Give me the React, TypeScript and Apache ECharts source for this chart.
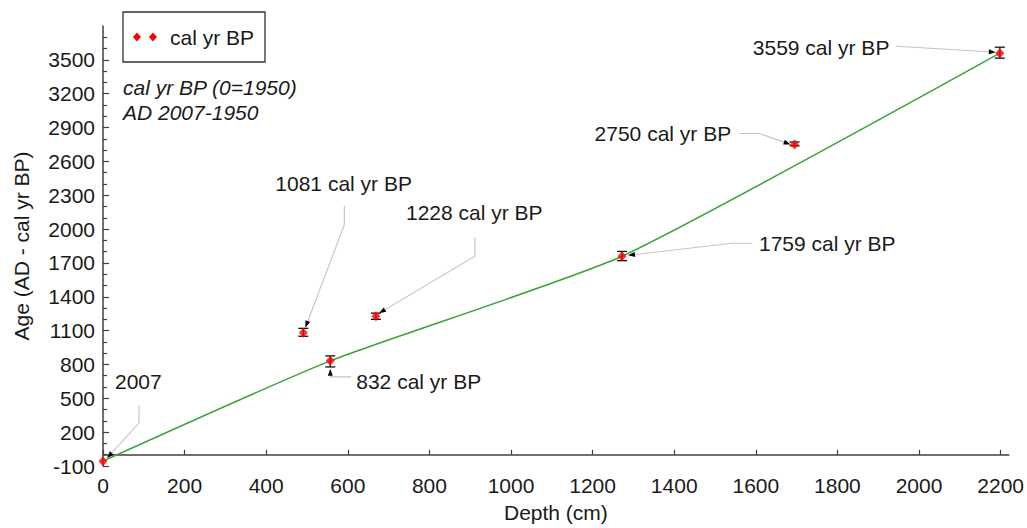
import React, { useEffect, useRef } from "react";
import * as echarts from "echarts";

// ---- data ----
const pointLabels = ["2007", "1081 cal yr BP", "832 cal yr BP", "1228 cal yr BP", "1759 cal yr BP", "2750 cal yr BP", "3559 cal yr BP"];
const pointDepth = [0, 491, 557, 669, 1272, 1695, 2198];
const pointAge = [-57, 1081, 832, 1228, 1759, 2750, 3559];
const errLow = [-57, 1050, 778, 1200, 1720, 2738, 3515];
const errHigh = [-57, 1120, 876, 1255, 1802, 2772, 3612];
const modelDepth = [0, 557, 1272, 2198];
const modelAge = [-57, 832, 1759, 3559];
const xTickValues = [0, 200, 400, 600, 800, 1000, 1200, 1400, 1600, 1800, 2000, 2200];
const yTickValues = [-100, 200, 500, 800, 1100, 1400, 1700, 2000, 2300, 2600, 2900, 3200, 3500];
const seriesName = "cal yr BP";
const noteLines = ["cal yr BP (0=1950)", "AD 2007-1950"];

// ---- annotation layout (pixel offsets from the point) ----
const annTextOffset: number[][] = [
  [12, -80],
  [-28, -149],
  [26, 21],
  [30, -104],
  [137, -13],
  [-200, -11],
  [-247, -6],
];
const annLeader: number[][][] = [
  [[36, -56], [36, -38], [4, -3]],
  [[41, -127], [41, -108], [2, -5]],
  [[21, 16], [0, 16], [0, 8]],
  [[99, -79], [99, -60], [3, -3]],
  [[130, -13], [110, -13], [6, -1]],
  [[-55, -11], [-35, -11], [-4, 0]],
  [[-104, -7], [-4, -1]],
];

const FONT = "'Liberation Sans', Arial, Helvetica, sans-serif";
const FS = 21;
const TEXT = "#1a1a1a";
const AXIS = "#404040";

export default function App() {
  const ref = useRef<HTMLDivElement>(null);
  useEffect(() => {
    if (!ref.current) return;
    const chart = echarts.init(ref.current, undefined, { renderer: "svg" });

    const option: any = {
      animation: false,
      backgroundColor: "#ffffff",
      grid: { left: 103, right: 15, top: 26, bottom: 61 },
      xAxis: {
        type: "value",
        min: 0,
        max: 2220,
        interval: 200,
        name: "Depth (cm)",
        nameLocation: "middle",
        nameGap: 36,
        nameTextStyle: { fontFamily: FONT, fontSize: FS, color: TEXT },
        axisLine: { show: true, lineStyle: { color: AXIS, width: 1.5 } },
        axisTick: { show: true, inside: true, length: 5, customValues: xTickValues, lineStyle: { color: AXIS, width: 1.2 } },
        axisLabel: {
          customValues: xTickValues,
          margin: 9,
          fontFamily: FONT,
          fontSize: FS,
          color: TEXT,
          formatter: (v: number) => String(v),
        },
        splitLine: { show: false },
      },
      yAxis: {
        type: "value",
        min: -100,
        max: 3800,
        interval: 300,
        name: "Age (AD - cal yr BP)",
        nameLocation: "middle",
        nameGap: 71,
        nameTextStyle: { fontFamily: FONT, fontSize: FS, color: TEXT },
        axisLine: { show: true, lineStyle: { color: AXIS, width: 1.5 } },
        axisTick: { show: true, inside: true, length: 6, customValues: yTickValues, lineStyle: { color: AXIS, width: 1.2 } },
        minorTick: { show: true, splitNumber: 3, length: 4, lineStyle: { color: AXIS, width: 1.2 } },
        axisLabel: {
          customValues: yTickValues,
          margin: 8,
          fontFamily: FONT,
          fontSize: FS,
          color: TEXT,
          formatter: (v: number) => String(v),
        },
        splitLine: { show: false },
      },
      series: [
        {
          name: "model",
          type: "line",
          data: modelDepth.map((d, i) => [d, modelAge[i]]),
          smooth: 0.18,
          showSymbol: false,
          symbol: "none",
          lineStyle: { color: "#3ba33b", width: 1.5 },
          z: 1,
        },
        {
          name: "errors",
          type: "custom",
          data: pointDepth.map((d, i) => [d, errLow[i], errHigh[i]]),
          encode: { x: 0, y: [1, 2] },
          z: 2,
          clip: false,
          renderItem: (params: any, api: any) => {
            const x = api.value(0);
            const lo = api.value(1);
            const hi = api.value(2);
            if (hi - lo <= 0) return { type: "group", children: [] };
            const a = api.coord([x, lo]);
            const b = api.coord([x, hi]);
            const w = 5;
            const st = { stroke: "#111111", lineWidth: 1.3 };
            return {
              type: "group",
              children: [
                { type: "line", shape: { x1: a[0], y1: a[1], x2: b[0], y2: b[1] }, style: st },
                { type: "line", shape: { x1: a[0] - w, y1: a[1], x2: a[0] + w, y2: a[1] }, style: st },
                { type: "line", shape: { x1: b[0] - w, y1: b[1], x2: b[0] + w, y2: b[1] }, style: st },
              ],
            };
          },
        },
        {
          name: seriesName,
          type: "scatter",
          data: pointDepth.map((d, i) => [d, pointAge[i]]),
          symbol: "diamond",
          symbolSize: [9, 10],
          itemStyle: { color: "#ff0000" },
          z: 3,
        },
        {
          name: "annotations",
          type: "custom",
          data: pointDepth.map((d, i) => [d, pointAge[i], i]),
          encode: { x: 0, y: 1 },
          z: 4,
          clip: false,
          renderItem: (params: any, api: any) => {
            const i = api.value(2);
            const p = api.coord([api.value(0), api.value(1)]);
            const lead = annLeader[i].map((o) => [p[0] + o[0], p[1] + o[1]]);
            const tip = lead[lead.length - 1];
            const prev = lead[lead.length - 2];
            let dx = tip[0] - prev[0];
            let dy = tip[1] - prev[1];
            const len = Math.sqrt(dx * dx + dy * dy) || 1;
            dx /= len;
            dy /= len;
            const L = 7;
            const H = 2.5;
            const bx = tip[0] - dx * L;
            const by = tip[1] - dy * L;
            const to = annTextOffset[i];
            return {
              type: "group",
              children: [
                {
                  type: "polyline",
                  shape: { points: lead.slice(0, lead.length - 1).concat([[bx, by]]) },
                  style: { stroke: "#c4c4c4", lineWidth: 1.1, fill: null },
                },
                {
                  type: "polygon",
                  shape: { points: [tip, [bx - dy * H, by + dx * H], [bx + dy * H, by - dx * H]] },
                  style: { fill: "#000000" },
                },
                {
                  type: "text",
                  style: {
                    x: p[0] + to[0],
                    y: p[1] + to[1],
                    text: pointLabels[i],
                    fill: TEXT,
                    fontSize: FS,
                    fontFamily: FONT,
                    align: "left",
                    verticalAlign: "middle",
                  },
                },
              ],
            };
          },
        },
      ],
      graphic: [
        {
          type: "rect",
          shape: { x: 123, y: 12, width: 142, height: 50 },
          style: { fill: "#ffffff", stroke: "#333333", lineWidth: 1.3 },
          z: 10,
        },
        {
          type: "polygon",
          shape: { points: [[137, 32.5], [141, 37], [137, 41.5], [133, 37]] },
          style: { fill: "#ff0000" },
          z: 11,
        },
        {
          type: "polygon",
          shape: { points: [[153, 32.5], [157, 37], [153, 41.5], [149, 37]] },
          style: { fill: "#ff0000" },
          z: 11,
        },
        {
          type: "text",
          x: 170,
          y: 37,
          style: { text: seriesName, fill: TEXT, fontSize: FS, fontFamily: FONT, verticalAlign: "middle", align: "left" },
          z: 11,
        },
        {
          type: "text",
          x: 123,
          y: 87,
          style: { text: noteLines[0], fill: TEXT, fontSize: FS, fontFamily: FONT, fontStyle: "italic", verticalAlign: "middle", align: "left" },
          z: 11,
        },
        {
          type: "text",
          x: 123,
          y: 112,
          style: { text: noteLines[1], fill: TEXT, fontSize: FS, fontFamily: FONT, fontStyle: "italic", verticalAlign: "middle", align: "left" },
          z: 11,
        },
      ],
    };

    chart.setOption(option);
    return () => {
      chart.dispose();
    };
  }, []);

  return (
    <div
      ref={ref}
      style={{ position: "fixed", left: 0, top: 0, width: 1027, height: 528, background: "#ffffff" }}
    />
  );
}
